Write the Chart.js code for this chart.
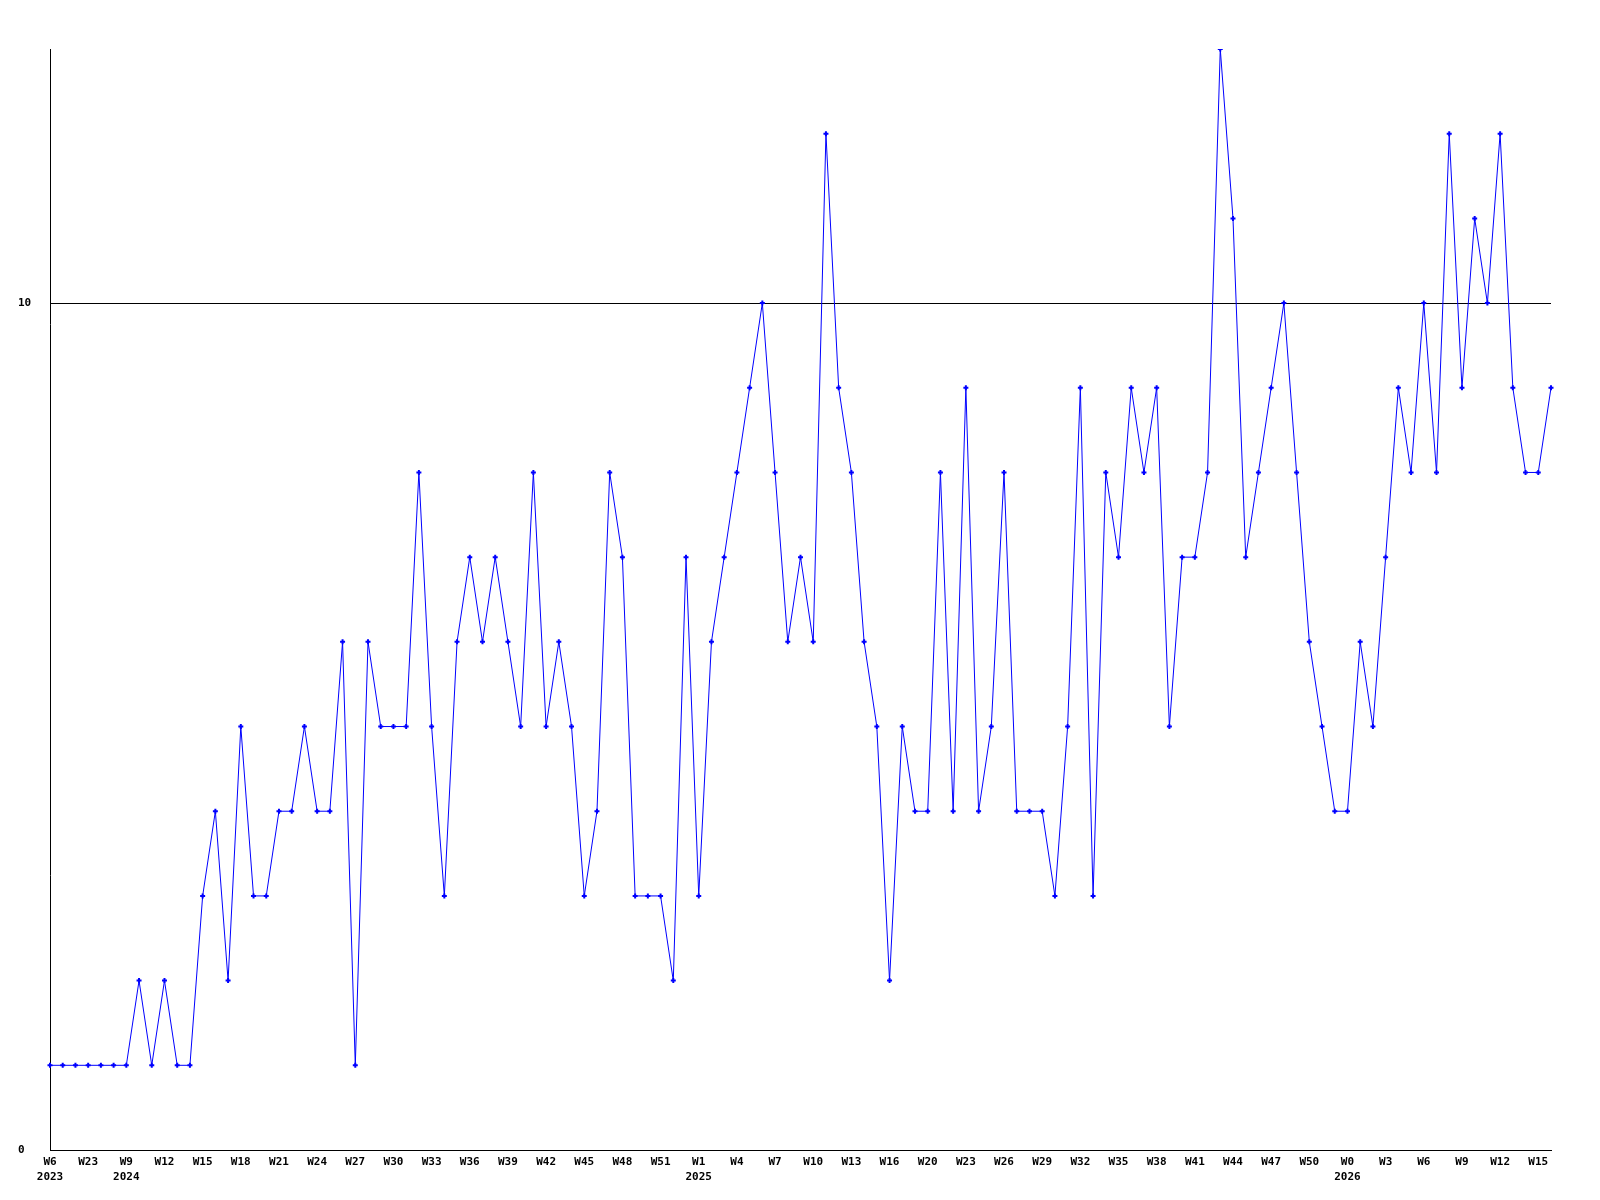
<!DOCTYPE html>
<html>
<head>
<meta charset="utf-8">
<style>
  html, body { margin: 0; padding: 0; background: #ffffff; }
  #wrap { width: 1600px; height: 1200px; }
</style>
<script src="https://cdn.jsdelivr.net/npm/chart.js@4/dist/chart.umd.min.js"></script>
</head>
<body>
<div id="wrap"><canvas id="c" width="1600" height="1200"></canvas></div>
<script>
// Weekly counts (one point per week)
const values = [
  1, 1, 1, 1, 1, 1, 1, 2, 1, 2,
  1, 1, 3, 4, 2, 5, 3, 3, 4, 4,
  5, 4, 4, 6, 1, 6, 5, 5, 5, 8,
  5, 3, 6, 7, 6, 7, 6, 5, 8, 5,
  6, 5, 3, 4, 8, 7, 3, 3, 3, 2,
  7, 3, 6, 7, 8, 9, 10, 8, 6, 7,
  6, 12, 9, 8, 6, 5, 2, 5, 4, 4,
  8, 4, 9, 4, 5, 8, 4, 4, 4, 3,
  5, 9, 3, 8, 7, 9, 8, 9, 5, 7,
  7, 8, 13, 11, 7, 8, 9, 10, 8, 6,
  5, 4, 4, 6, 5, 7, 9, 8, 10, 8,
  12, 9, 11, 10, 12, 9, 8, 8, 9
];

// Visible x-axis tick labels, one every third week
const tickLabels = [
  ["W6", "2023"], "W23", ["W9", "2024"], "W12", "W15", "W18", "W21", "W24", "W27", "W30",
  "W33", "W36", "W39", "W42", "W45", "W48", "W51", ["W1", "2025"], "W4", "W7",
  "W10", "W13", "W16", "W20", "W23", "W26", "W29", "W32", "W35", "W38",
  "W41", "W44", "W47", "W50", ["W0", "2026"], "W3", "W6", "W9", "W12", "W15"
];
const tickEvery = 3;

// Y-axis tick values shown
const yTicks = [0, 10];
const yMin = 0;
const yMax = 13;

const categories = values.map((v, i) => (i % tickEvery === 0 && tickLabels[i / tickEvery] !== undefined) ? tickLabels[i / tickEvery] : "");

const FONT = { family: "'DejaVu Sans Mono', 'Liberation Mono', monospace", size: 11, weight: "bold", lineHeight: 1.35 };

new Chart(document.getElementById("c"), {
  type: "line",
  data: {
    labels: categories,
    datasets: [{
      data: values,
      borderColor: "#0000ff",
      backgroundColor: "#0000ff",
      borderWidth: 1,
      tension: 0,
      fill: false,
      pointStyle: "cross",
      pointRadius: 2.5,
      pointBorderWidth: 2,
      pointBorderColor: "#0000ff",
      pointHoverRadius: 2.5
    }]
  },
  options: {
    responsive: false,
    animation: false,
    devicePixelRatio: 1,
    layout: { padding: { top: 49, right: 49, left: 18, bottom: 0 } },
    plugins: { legend: { display: false }, tooltip: { enabled: false }, title: { display: false } },
    scales: {
      x: {
        type: "category",
        offset: false,
        grid: { display: false, drawTicks: false },
        border: { display: true, color: "#000000", width: 1 },
        ticks: {
          autoSkip: false,
          maxRotation: 0,
          minRotation: 0,
          padding: 5,
          color: "#000000",
          font: FONT
        },
        afterFit: (s) => { s.height = 50; }
      },
      y: {
        min: yMin,
        max: yMax,
        afterBuildTicks: (axis) => { axis.ticks = yTicks.map(v => ({ value: v })); },
        grid: { display: true, color: "#000000", lineWidth: 1, drawTicks: false },
        border: { display: true, color: "#000000", width: 1 },
        ticks: {
          crossAlign: "far",
          padding: 0,
          color: "#000000",
          font: FONT
        },
        afterFit: (s) => { s.width = 32; }
      }
    }
  }
});
</script>
</body>
</html>
